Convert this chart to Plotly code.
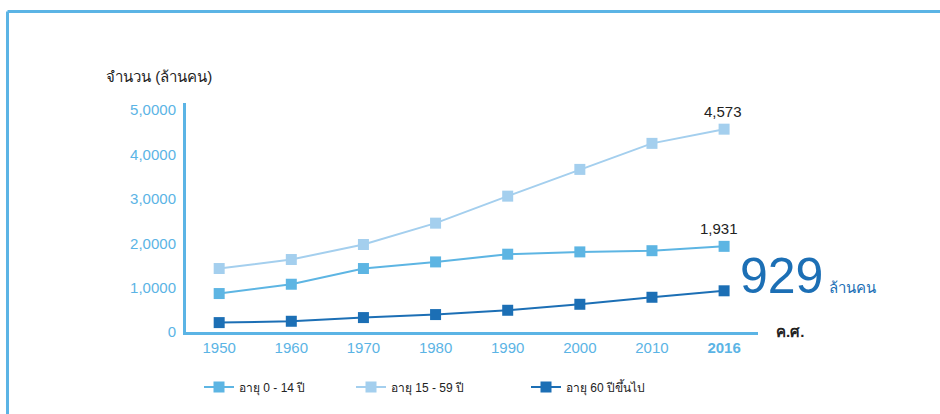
import plotly.graph_objects as go

# data (ล้านคน)
years = ["1950", "1960", "1970", "1980", "1990", "2000", "2010", "2016"]
year_labels = ["1950", "1960", "1970", "1980", "1990", "2000", "2010", "<b>2016</b>"]
age_0_14 = [867, 1077, 1431, 1580, 1754, 1806, 1833, 1931]
age_15_59 = [1431, 1634, 1973, 2454, 3063, 3666, 4253, 4573]
age_60_up = [212, 242, 325, 393, 490, 625, 783, 929]
y_ticks = [0, 1000, 2000, 3000, 4000, 5000]
y_tick_labels = ["0", "1,0000", "2,0000", "3,0000", "4,0000", "5,0000"]

AXIS = "#5BB4E5"
C_MID = "#5DB5E3"
C_LIGHT = "#A4CFEE"
C_DARK = "#1C6FB5"
TXT = "#222222"
FONT = "Liberation Sans, Arial, Noto Sans, sans-serif"

# plot area in pixels
W, H = 940, 414
L, R, T, B = 186, 758, 103, 332


def px(x):
    return (x - L) / (R - L)


def py(y):
    return (B - y) / (B - T)


def series(name, values, color, legend):
    return go.Scatter(
        x=years, y=values, name=name, mode="lines+markers",
        line={"color": color, "width": 2},
        marker={"color": color, "size": 11, "symbol": "square"},
        legend=legend,
    )


fig = go.Figure([
    series("อายุ 15 - 59 ปี", age_15_59, C_LIGHT, "legend2"),
    series("อายุ 0 - 14 ปี", age_0_14, C_MID, "legend"),
    series("อายุ 60 ปีขึ้นไป", age_60_up, C_DARK, "legend3"),
])

legend_style = dict(orientation="h", xanchor="left", yanchor="middle", y=py(387),
                    font={"size": 12, "color": TXT, "family": FONT},
                    bgcolor="rgba(0,0,0,0)")

fig.update_layout(
    width=W, height=H,
    margin={"l": L, "r": W - R, "t": T, "b": H - B, "pad": 0},
    paper_bgcolor="white", plot_bgcolor="white",
    font={"family": FONT},
    legend=dict(legend_style, x=px(199)),
    legend2=dict(legend_style, x=px(351)),
    legend3=dict(legend_style, x=px(526)),
    xaxis=dict(
        type="category", range=[-0.46, 7.47],
        tickvals=years, ticktext=year_labels,
        showline=True, linecolor=AXIS, linewidth=3,
        showgrid=False, zeroline=False, ticks="",
        tickfont={"size": 15, "color": AXIS, "family": FONT},
    ),
    yaxis=dict(
        range=[0, 5163],
        tickvals=y_ticks, ticktext=y_tick_labels,
        showline=True, linecolor=AXIS, linewidth=3,
        showgrid=False, zeroline=False, ticks="",
        tickfont={"size": 15, "color": AXIS, "family": FONT},
        ticklabelstandoff=4,
    ),
    showlegend=True,
)

# frame (top and left edges)
fig.add_shape(type="line", xref="paper", yref="paper",
              x0=px(7.5), x1=px(7.5), y0=py(H + 5), y1=py(11.5),
              line={"color": AXIS, "width": 3})
fig.add_shape(type="line", xref="paper", yref="paper",
              x0=px(7.5), x1=px(W + 5), y0=py(11.5), y1=py(11.5),
              line={"color": AXIS, "width": 3})

# value labels at the last year
last = len(years) - 1
fig.add_annotation(x=last, y=age_15_59[-1], xref="x", yref="y",
                   text=f"{age_15_59[-1]:,}",
                   showarrow=False, yshift=18, xshift=-1,
                   font={"size": 15, "color": TXT})
fig.add_annotation(x=last, y=age_0_14[-1], xref="x", yref="y",
                   text=f"{age_0_14[-1]:,}",
                   showarrow=False, yshift=18, xshift=-5,
                   font={"size": 15, "color": TXT})
fig.add_annotation(xref="paper", yref="paper", x=px(825), y=py(276),
                   xanchor="right", yanchor="middle", showarrow=False,
                   text=f"{age_60_up[-1]:,}",
                   font={"size": 50, "color": C_DARK})
fig.add_annotation(xref="paper", yref="paper", x=px(827), y=py(287),
                   xanchor="left", yanchor="middle", showarrow=False,
                   text="ล้านคน", font={"size": 15, "color": C_DARK})

# titles
fig.add_annotation(xref="paper", yref="paper", x=px(104), y=py(76),
                   xanchor="left", yanchor="middle", showarrow=False,
                   text="จำนวน (ล้านคน)", font={"size": 15, "color": TXT})
fig.add_annotation(xref="paper", yref="paper", x=px(774), y=py(331),
                   xanchor="left", yanchor="middle", showarrow=False,
                   text="<b>ค.ศ.</b>", font={"size": 15, "color": TXT})

fig.write_html("out.html", config={"displayModeBar": False},
               post_script="document.body.style.margin='0';")
